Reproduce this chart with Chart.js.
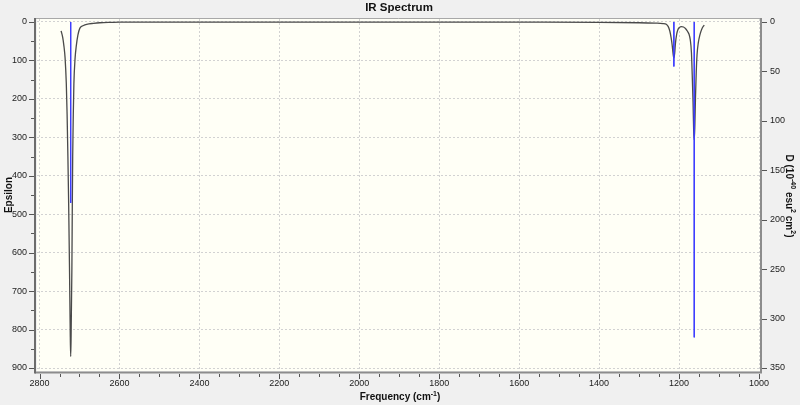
<!DOCTYPE html>
<html>
<head>
<meta charset="utf-8">
<title>IR Spectrum</title>
<script src="https://cdn.jsdelivr.net/npm/chart.js@4.4.0/dist/chart.umd.min.js"></script>
<style>
  html, body { margin: 0; padding: 0; background: #f0f0f0; }
  #wrap { width: 800px; height: 405px; position: relative; }
</style>
</head>
<body>
<div id="wrap"><canvas id="irChart"></canvas></div>
<script>
// broadened spectrum, frequency in cm-1 / epsilon
const curveFreq = [2746, 2742, 2739, 2736, 2733, 2731, 2729, 2727, 2725, 2723, 2722, 2721, 2719, 2718, 2717, 2715.5, 2714, 2711, 2708, 2704, 2699, 2690, 2682, 2665, 2649, 2620, 2600, 2400, 2000, 1600, 1400, 1300, 1260, 1240, 1232, 1227, 1223, 1220, 1217, 1215, 1213, 1211, 1209, 1206, 1203, 1199, 1194, 1189, 1184, 1179, 1175, 1172, 1169, 1167, 1165, 1163.5, 1162, 1160.5, 1159, 1157, 1155, 1152, 1148, 1143, 1137];
const curveEps = [23, 40, 62, 94, 160, 240, 350, 480, 640, 820, 870, 820, 640, 480, 350, 240, 160, 94, 62, 34, 16, 9, 6, 3.5, 2, 1, 0.5, 0.3, 0.3, 0.5, 1, 2, 3, 4, 6, 12, 24, 40, 62, 82, 94, 82, 55, 32, 20, 14, 12, 13, 17, 24, 32, 46, 80, 140, 210, 280, 307, 270, 200, 130, 85, 55, 34, 18, 8];

// stick spectrum, right axis D (10^-40 esu^2 cm^2)
const stickFreq = [2722, 1213, 1162];
const stickD = [183, 45, 319];

const xTicks = [2800, 2600, 2400, 2200, 2000, 1800, 1600, 1400, 1200, 1000];
const epsTicks = [0, 100, 200, 300, 400, 500, 600, 700, 800, 900];
const dTicks = [0, 50, 100, 150, 200, 250, 300, 350];

const FONT = '"Liberation Sans", Arial, sans-serif';

const curveData = curveFreq.map((f, i) => ({ x: f, y: curveEps[i] }));
const stickData = [];
stickFreq.forEach((f, i) => {
    stickData.push({ x: f, y: 0 }, { x: f, y: stickD[i] }, { x: f, y: null });
});

// draws a string with superscript parts, centred on (0,0) of the current transform
function drawRich(ctx, parts, size) {
    const big = 'bold ' + size + 'px ' + FONT;
    const small = 'bold ' + Math.round(size * 0.7) + 'px ' + FONT;
    let total = 0;
    parts.forEach(p => { ctx.font = p.sup ? small : big; total += ctx.measureText(p.t).width; });
    let x = -total / 2;
    parts.forEach(p => {
        ctx.font = p.sup ? small : big;
        ctx.fillText(p.t, x, p.sup ? -size * 0.4 : 0);
        x += ctx.measureText(p.t).width;
    });
}

const decor = {
    id: 'decor',
    beforeDraw(chart) {
        const { ctx, chartArea: a } = chart;
        ctx.save();
        ctx.fillStyle = '#f0f0f0';
        ctx.fillRect(0, 0, chart.width, chart.height);
        ctx.fillStyle = '#fffff6';
        ctx.fillRect(a.left, a.top, a.right - a.left, a.bottom - a.top);
        ctx.restore();
    },
    afterDraw(chart) {
        const { ctx, chartArea: a, scales } = chart;
        ctx.save();

        // frame
        ctx.strokeStyle = '#a8a8a8'; ctx.lineWidth = 1;
        ctx.beginPath(); ctx.moveTo(a.left - 1, a.top - 0.5); ctx.lineTo(a.right + 1, a.top - 0.5); ctx.stroke();
        ctx.strokeStyle = '#8c8c8c'; ctx.lineWidth = 2;
        ctx.beginPath(); ctx.moveTo(a.right + 1, a.top - 1); ctx.lineTo(a.right + 1, a.bottom + 2); ctx.stroke();
        ctx.beginPath(); ctx.moveTo(a.left - 2, a.bottom + 1.5); ctx.lineTo(a.right + 2, a.bottom + 1.5); ctx.stroke();
        ctx.strokeStyle = '#6c6c6c';
        ctx.beginPath(); ctx.moveTo(a.left - 2, a.top - 1); ctx.lineTo(a.left - 2, a.bottom + 2.5); ctx.stroke();

        // major + minor tick marks
        ctx.strokeStyle = '#555'; ctx.lineWidth = 1;
        const xs = scales.x, ys = scales.y, y2 = scales.y2;
        for (let v = 1000; v <= 2800; v += 50) {
            const px = Math.round(xs.getPixelForValue(v)) + 0.5;
            const len = v % 200 === 0 ? 5 : 3;
            ctx.beginPath(); ctx.moveTo(px, a.bottom + 3); ctx.lineTo(px, a.bottom + 3 + len); ctx.stroke();
        }
        for (let v = 0; v <= 900; v += 50) {
            const py = Math.round(ys.getPixelForValue(v)) + 0.5;
            const len = v % 100 === 0 ? 5 : 3;
            ctx.beginPath(); ctx.moveTo(a.left - 3, py); ctx.lineTo(a.left - 3 - len, py); ctx.stroke();
        }
        dTicks.forEach(v => {
            const py = Math.round(y2.getPixelForValue(v)) + 0.5;
            ctx.beginPath(); ctx.moveTo(a.right + 2, py); ctx.lineTo(a.right + 7, py); ctx.stroke();
        });

        // titles
        ctx.fillStyle = '#111';
        ctx.textBaseline = 'alphabetic';
        ctx.textAlign = 'left';
        ctx.save(); ctx.translate(399, 11); drawRich(ctx, [{ t: 'IR Spectrum' }], 11.5); ctx.restore();
        ctx.save(); ctx.translate(400, 400); drawRich(ctx, [{ t: 'Frequency (cm' }, { t: '-1', sup: true }, { t: ')' }], 10); ctx.restore();
        ctx.textBaseline = 'middle';
        ctx.save(); ctx.translate(9, 195); ctx.rotate(-Math.PI / 2); drawRich(ctx, [{ t: 'Epsilon' }], 10); ctx.restore();
        ctx.save(); ctx.translate(789, 196); ctx.rotate(Math.PI / 2);
        drawRich(ctx, [{ t: 'D (10' }, { t: '-40', sup: true }, { t: ' esu' }, { t: '2', sup: true }, { t: ' cm' }, { t: '2', sup: true }, { t: ')' }], 10);
        ctx.restore();

        ctx.restore();
    }
};

const tickFont = { family: FONT, size: 9 };

new Chart(document.getElementById('irChart'), {
    type: 'line',
    data: {
        datasets: [{
            label: 'Sticks',
            data: stickData,
            yAxisID: 'y2',
            borderColor: '#3c3cff',
            borderWidth: 1,
            pointRadius: 0,
            spanGaps: false,
            order: 0
        }, {
            label: 'Epsilon',
            data: curveData,
            yAxisID: 'y',
            borderColor: '#4a4a4a',
            borderWidth: 1.3,
            pointRadius: 0,
            cubicInterpolationMode: 'monotone',
            order: 1
        }]
    },
    options: {
        responsive: true,
        maintainAspectRatio: false,
        animation: false,
        layout: { padding: { top: 19, left: 0, right: 0, bottom: 0 } },
        plugins: { legend: { display: false }, tooltip: { enabled: false }, title: { display: false } },
        scales: {
            x: {
                type: 'linear',
                reverse: true,
                min: 997.5,
                max: 2806.3,
                afterBuildTicks: s => { s.ticks = xTicks.map(v => ({ value: v })); },
                afterFit: s => { s.height = 34; },
                ticks: { autoSkip: false, maxRotation: 0, padding: 7, font: tickFont, color: '#222', callback: v => String(v) },
                grid: { color: '#d2d2d2', drawTicks: false },
                border: { display: false, dash: [2, 2] }
            },
            y: {
                position: 'left',
                reverse: true,
                min: -7.8,
                max: 907.8,
                afterBuildTicks: s => { s.ticks = epsTicks.map(v => ({ value: v })); },
                afterFit: s => { s.width = 37; },
                ticks: { autoSkip: false, padding: 10, font: tickFont, color: '#222', callback: v => String(v) },
                grid: { color: '#d2d2d2', drawTicks: false },
                border: { display: false, dash: [2, 2] }
            },
            y2: {
                position: 'right',
                reverse: true,
                min: -3.03,
                max: 353.03,
                afterBuildTicks: s => { s.ticks = dTicks.map(v => ({ value: v })); },
                afterFit: s => { s.width = 40; },
                ticks: { autoSkip: false, padding: 10, font: tickFont, color: '#222', callback: v => String(v) },
                grid: { display: false, drawTicks: false },
                border: { display: false }
            }
        }
    },
    plugins: [decor]
});
</script>
</body>
</html>
